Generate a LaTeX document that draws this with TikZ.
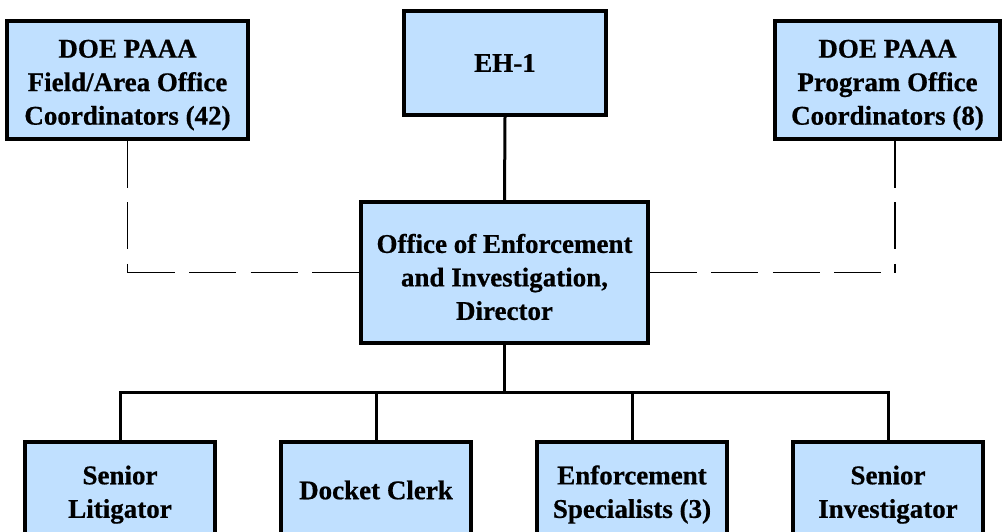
\documentclass[tikz,border=0pt]{standalone}
\usepackage{fontspec}
\setmainfont{Liberation Serif}[BoldFeatures={FakeBold=0.6}]
% taller first line pushes a multi-line label slightly down in its box
\newcommand{\firstpad}{\rule{0pt}{28pt}}
\begin{document}
\begin{tikzpicture}[x=1pt,y=-1pt,
  unit/.style={draw=black, line width=3.5pt, fill=boxblue, align=center,
    inner sep=0pt, font=\bfseries\fontsize{27}{33.5}\selectfont},
  solidlink/.style={line width=3pt},
  dashlink/.style={line width=1.2pt, dash pattern=on 47pt off 14.5pt}]
\definecolor{boxblue}{RGB}{192,224,255}
\useasboundingbox (0,0) rectangle (1004,531);
\clip (0,0) rectangle (1004,531);

% top row
\node[unit, minimum width=241pt, minimum height=118pt] (fieldco) at (127.5,80)
  {\firstpad DOE PAAA\\Field/Area Office\\Coordinators (42)};
\node[unit, minimum width=202pt, minimum height=104pt] (eh1) at (505,63) {EH-1};
\node[unit, minimum width=225pt, minimum height=118pt] (progco) at (887.5,80)
  {\firstpad DOE PAAA\\Program Office\\Coordinators (8)};

% director
\node[unit, minimum width=287pt, minimum height=141pt] (dir) at (504.5,272.5)
  {\firstpad Office of Enforcement\\and Investigation,\\Director};

% staff row
\node[unit, minimum width=190pt, minimum height=96pt] (lit) at (120,490) {\firstpad Senior\\Litigator};
\node[unit, minimum width=190pt, minimum height=96pt] (clerk) at (376,490) {Docket Clerk};
\node[unit, minimum width=190pt, minimum height=96pt] (spec) at (632,490) {\firstpad Enforcement\\Specialists (3)};
\node[unit, minimum width=190pt, minimum height=96pt] (inv) at (888,490) {\firstpad Senior\\Investigator};

% reporting lines
\coordinate (bus) at (504.5,392);
\draw[solidlink] (eh1.south) -- (dir.north);
\draw[solidlink] (dir.south) -- (bus);
\draw[solidlink] (lit.north) |- (bus) -| (inv.north);
\draw[solidlink] (clerk.north) -- (clerk.north |- bus);
\draw[solidlink] (spec.north) -- (spec.north |- bus);

% coordination lines, each leg dashed on its own
\coordinate (cl) at (fieldco.south |- dir.west);
\coordinate (pr) at ([xshift=7.5pt]progco.south);
\coordinate (cr) at (pr |- dir.east);
\draw[dashlink] (fieldco.south) -- (cl);
\draw[dashlink] (cl) -- (dir.west);
\draw[dashlink] (pr) -- (cr);
\draw[dashlink] (dir.east) -- (cr);
\end{tikzpicture}
\end{document}
